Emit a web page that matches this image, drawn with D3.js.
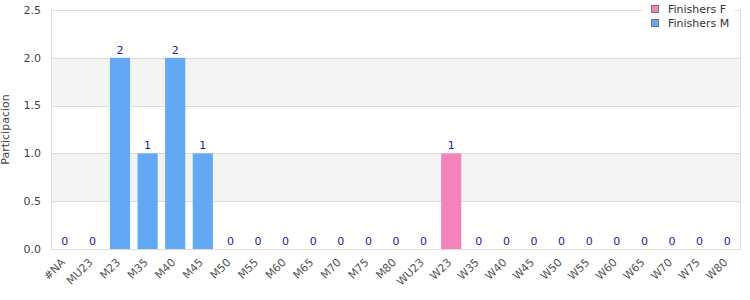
<!DOCTYPE html>
<html>
<head>
<meta charset="utf-8">
<script src="https://cdn.jsdelivr.net/npm/d3@7"></script>
<style>
  body { margin: 0; background: #fff; }
  svg { font-family: "DejaVu Sans", sans-serif; }
</style>
</head>
<body>
<script>
const categories = ['#NA', 'MU23', 'M23', 'M35', 'M40', 'M45', 'M50', 'M55', 'M60', 'M65', 'M70', 'M75', 'M80',
  'WU23', 'W23', 'W35', 'W40', 'W45', 'W50', 'W55', 'W60', 'W65', 'W70', 'W75', 'W80'];
// F series only in W23, M series elsewhere
const finishersM = [0, 0, 2, 1, 2, 1, 0, 0, 0, 0, 0, 0, 0, 0, null, 0, 0, 0, 0, 0, 0, 0, 0, 0, 0];
const finishersF = [null, null, null, null, null, null, null, null, null, null, null, null, null, null, 1, null, null, null, null, null, null, null, null, null, null];
const yTicks = [0, 0.5, 1, 1.5, 2, 2.5];
const seriesNames = ['Finishers F', 'Finishers M'];
const colors = { 'Finishers F': '#f283bb', 'Finishers M': '#62a8f4' };

const W = 750, H = 300;
const margin = { top: 10, right: 9, bottom: 51, left: 51 };
const width = W - margin.left - margin.right;
const height = H - margin.top - margin.bottom;

const svg = d3.select('body').append('svg').attr('width', W).attr('height', H);
const g = svg.append('g').attr('transform', `translate(${margin.left},${margin.top})`);

const x = d3.scaleBand().domain(categories).range([0, width]).paddingInner(0.27).paddingOuter(0.135);
const y = d3.scaleLinear().domain([0, 2.5]).range([height, 0]);

// alternating bands
for (let i = 0; i < yTicks.length - 1; i++) {
  if (i % 2 === 1) {
    g.append('rect')
      .attr('x', 0).attr('width', width)
      .attr('y', y(yTicks[i + 1])).attr('height', y(yTicks[i]) - y(yTicks[i + 1]))
      .attr('fill', '#f3f3f3');
  }
}
g.selectAll('.grid').data(yTicks).enter().append('line')
  .attr('x1', 0).attr('x2', width)
  .attr('y1', d => Math.round(y(d)) + 0.5).attr('y2', d => Math.round(y(d)) + 0.5)
  .attr('stroke', '#dcdcdc');
g.append('line').attr('x1', 0.5).attr('x2', 0.5).attr('y1', 0).attr('y2', height).attr('stroke', '#dcdcdc');
g.append('line').attr('x1', width - 0.5).attr('x2', width - 0.5).attr('y1', 0).attr('y2', height).attr('stroke', '#dcdcdc');

// y axis labels
g.selectAll('.ytick').data(yTicks).enter().append('text')
  .attr('x', -10).attr('y', d => y(d)).attr('dy', '0.35em')
  .attr('text-anchor', 'end').attr('font-size', 11).attr('fill', '#444')
  .text(d => d.toFixed(1));

svg.append('text')
  .attr('transform', `translate(9,${margin.top + height / 2}) rotate(-90)`)
  .attr('text-anchor', 'middle').attr('font-size', 11).attr('fill', '#444')
  .text('Participacion');

// x labels
g.selectAll('.xtick').data(categories).enter().append('text')
  .attr('transform', d => `translate(${x(d) + x.bandwidth() / 2 + 1},${height + 14}) rotate(-45)`)
  .attr('text-anchor', 'end').attr('font-size', 11).attr('fill', '#555')
  .text(d => d);

const rows = [];
categories.forEach((c, i) => {
  if (finishersM[i] !== null) rows.push({ cat: c, v: finishersM[i], s: 'Finishers M' });
  if (finishersF[i] !== null) rows.push({ cat: c, v: finishersF[i], s: 'Finishers F' });
});

g.selectAll('.bar').data(rows.filter(d => d.v > 0)).enter().append('rect')
  .attr('x', d => x(d.cat)).attr('width', x.bandwidth())
  .attr('y', d => y(d.v)).attr('height', d => y(0) - y(d.v))
  .attr('fill', d => colors[d.s]);

g.selectAll('.val').data(rows).enter().append('text')
  .attr('x', d => x(d.cat) + x.bandwidth() / 2).attr('y', d => y(d.v) - 4)
  .attr('text-anchor', 'middle').attr('font-size', 11).attr('fill', '#1c1c9c')
  .text(d => d.v);

// legend
const lg = svg.append('g').attr('transform', 'translate(643,0)');
lg.append('rect').attr('x', 0).attr('y', 0).attr('width', 92).attr('height', 32).attr('fill', '#fff');
seriesNames.forEach((s, i) => {
  lg.append('rect').attr('x', 8.5).attr('y', 5.5 + i * 14).attr('width', 7).attr('height', 7)
    .attr('fill', colors[s]).attr('stroke', '#777');
  lg.append('text').attr('x', 25).attr('y', 9 + i * 14).attr('dy', '0.35em')
    .attr('font-size', 11).attr('fill', '#333').text(s);
});
</script>
</body>
</html>
